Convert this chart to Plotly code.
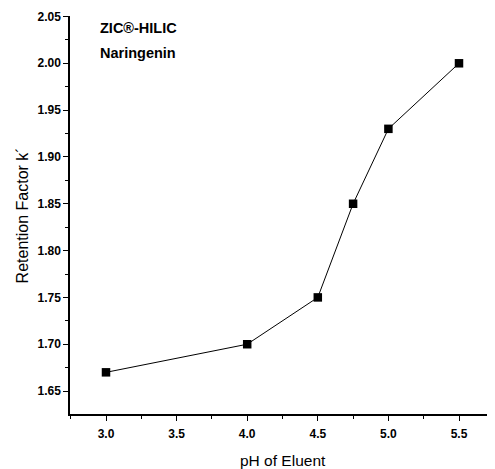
import plotly.graph_objects as go

ph = [3.0, 4.0, 4.5, 4.75, 5.0, 5.5]
k_values = [1.67, 1.70, 1.75, 1.85, 1.93, 2.00]
label_lines = ["ZIC®-HILIC", "Naringenin"]

FONT = "Liberation Sans, Arial, sans-serif"

fig = go.Figure()
fig.add_trace(go.Scatter(
    x=ph, y=k_values, mode="lines+markers",
    line=dict(color="black", width=1),
    marker=dict(symbol="square", size=8.5, color="black"),
    showlegend=False,
))

axis_common = dict(
    showline=True, linecolor="black", linewidth=1.5,
    ticks="outside", ticklen=5, tickwidth=1.2, tickcolor="black",
    showgrid=False, zeroline=False, mirror=False,
    tickfont=dict(family=FONT, size=12, color="black", weight="bold"),
)

fig.update_xaxes(
    range=[2.745, 5.755], tick0=3.0, dtick=0.5, tickformat=".1f",
    ticklabelstandoff=3,
    minor=dict(ticks="outside", ticklen=3, tickwidth=1.2, tickcolor="black", dtick=0.25, tick0=3.0),
    **axis_common,
)
fig.update_yaxes(
    range=[1.6255, 2.0505], tick0=1.65, dtick=0.05, tickformat=".2f",
    minor=dict(ticks="outside", ticklen=3, tickwidth=1.2, tickcolor="black", dtick=0.025, tick0=1.65),
    **axis_common,
)

fig.add_annotation(text=label_lines[0], xref="paper", yref="paper", x=0.065, y=0.97,
                   xanchor="left", yanchor="middle", showarrow=False,
                   font=dict(family=FONT, size=14.5, color="black", weight="bold"))
fig.add_annotation(text=label_lines[1], xref="paper", yref="paper", x=0.065, y=0.908,
                   xanchor="left", yanchor="middle", showarrow=False,
                   font=dict(family=FONT, size=14.5, color="black", weight="bold"))
fig.add_annotation(text="pH of Eluent", xref="paper", yref="paper", x=0.5, y=-0.118,
                   xanchor="center", yanchor="middle", showarrow=False,
                   font=dict(family=FONT, size=15.5, color="black"))
fig.add_annotation(text="Retention Factor k´", xref="paper", yref="paper", x=-0.112, y=0.5,
                   xanchor="center", yanchor="middle", showarrow=False, textangle=-90,
                   font=dict(family=FONT, size=16, color="black"))

# page body has an 8px margin, so the figure is shifted by 8px; compensate
fig.update_layout(
    width=487, height=461,
    margin=dict(l=62, r=0, t=8, b=55),
    plot_bgcolor="white", paper_bgcolor="white",
)

fig.write_html("out.html")
